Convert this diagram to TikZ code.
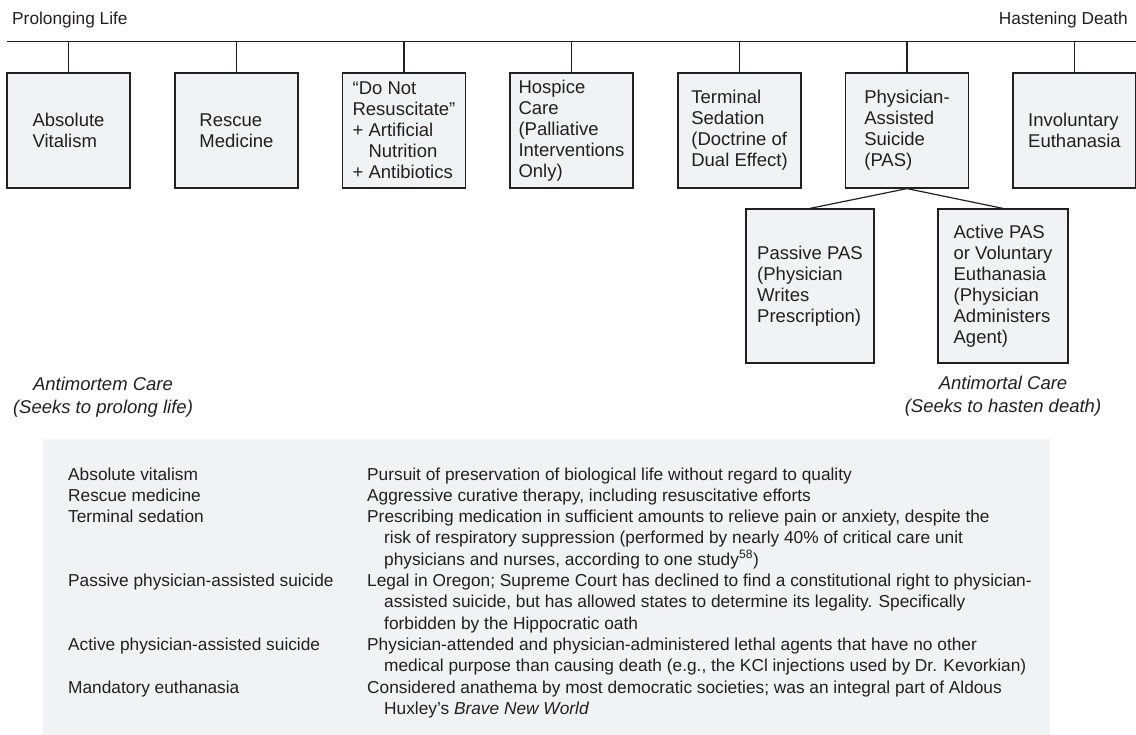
\documentclass[tikz,border=0pt]{standalone}
\usepackage{fontspec}
\setmainfont{Liberation Sans}
\definecolor{panel}{RGB}{241,242,244}
\definecolor{ink}{RGB}{35,31,32}
\begin{document}
\begin{tikzpicture}[x=1pt,y=-1pt,
  box/.style={draw=ink, line width=1.2pt, fill=panel, minimum width=123pt, minimum height=115pt,
    align=left, inner sep=0pt, font=\fontsize{18.5}{21}\selectfont, text=ink},
  conn/.style={draw=ink, line width=1.2pt},
  tab/.style={anchor=base west, inner sep=0pt, align=left, font=\fontsize{17.3}{21.3}\selectfont, text=ink},
  endlabel/.style={inner sep=0pt, font=\fontsize{17.3}{21.3}\selectfont, text=ink},
  carelabel/.style={inner sep=0pt, align=center, font=\fontsize{18.5}{23.5}\selectfont\itshape, text=ink},
]
\useasboundingbox (0,0) rectangle (1136,735);
% table panel
\fill[panel] (43,439) rectangle (1050,735);

% end labels
\node[endlabel, anchor=base west] (pl) at (12,25) {Prolonging Life};
\node[endlabel, anchor=base east] (hd) at (1128,25) {Hastening Death};

% bar
\coordinate (barL) at (7,41.7);
\coordinate (barR) at (1136,41.7);
\draw[conn] (barL) -- (barR);

% boxes
\node[box] (b1) at (68.5,130.5) {Absolute\\Vitalism};
\node[box] (b2) at (236.5,130.5) {Rescue\\Medicine};
\node[box] (b3) at (404,130.5) {“Do Not\\Resuscitate”\\+ Artificial\\\phantom{+ }Nutrition\\+ Antibiotics};
\node[box] (b4) at (571.5,130.5) {Hospice\\Care\\(Palliative\\Interventions\\Only)};
\node[box] (b5) at (739.5,130.5) {Terminal\\Sedation\\(Doctrine of\\Dual Effect)};
\node[box] (b6) at (907,130.5) {Physician-\\Assisted\\Suicide\\(PAS)};
\node[box] (b7) at (1074.5,130.5) {Involuntary\\Euthanasia};

\foreach \i/\x in {1/68.5,2/236.5,3/404,4/571.5,5/739.5,6/907,7/1074.5}{
  \coordinate (t\i) at (\x,41.7);
  \draw[conn] (t\i) -- (b\i.north);
}

% sub boxes
\node[box, minimum width=128pt, minimum height=154pt] (p1) at (810,286) {Passive PAS\\(Physician\\Writes\\Prescription)};
\node[box, minimum width=130pt, minimum height=154pt] (p2) at (1003,286) {Active PAS\\or Voluntary\\Euthanasia\\(Physician\\Administers\\Agent)};
\draw[conn] (b6.south) -- (p1.north);
\draw[conn] (b6.south) -- (p2.north);

% care labels
\node[carelabel] (amc) at (103,397) {Antimortem Care\\(Seeks to prolong life)};
\node[carelabel] (atc) at (1003,396) {Antimortal Care\\(Seeks to hasten death)};

% table (multi-line nodes: base = baseline of last line)
\node[tab] (l1) at (68,480) {Absolute vitalism};
\node[tab] (l2) at (68,501.3) {Rescue medicine};
\node[tab] (l3) at (68,522.6) {Terminal sedation};
\node[tab] (l4) at (68,586.5) {Passive physician-assisted suicide};
\node[tab] (l5) at (68,650.4) {Active physician-assisted suicide};
\node[tab] (l6) at (68,693) {Mandatory euthanasia};

\node[tab] (d1) at (367,480) {Pursuit of preservation of biological life without regard to quality};
\node[tab] (d2) at (367,501.3) {Aggressive curative therapy, including resuscitative efforts};
\node[tab] (d3) at (367,565.2) {Prescribing medication in sufficient amounts to relieve pain or anxiety, despite the\\
  \hspace*{17pt}risk of respiratory suppression (performed by nearly 40\% of critical care unit\\
  \hspace*{17pt}physicians and nurses, according to one study\textsuperscript{58})};
\node[tab] (d4) at (367,629.1) {Legal in Oregon; Supreme Court has declined to find a constitutional right to physician-\\
  \hspace*{17pt}assisted suicide, but has allowed states to determine its legality. Specifically\\
  \hspace*{17pt}forbidden by the Hippocratic oath};
\node[tab] (d5) at (367,671.7) {Physician-attended and physician-administered lethal agents that have no other\\
  \hspace*{17pt}medical purpose than causing death (e.g., the KCl injections used by Dr. Kevorkian)};
\node[tab] (d6) at (367,714.3) {Considered anathema by most democratic societies; was an integral part of Aldous\\
  \hspace*{17pt}Huxley’s \textit{Brave New World}};
\end{tikzpicture}
\end{document}
